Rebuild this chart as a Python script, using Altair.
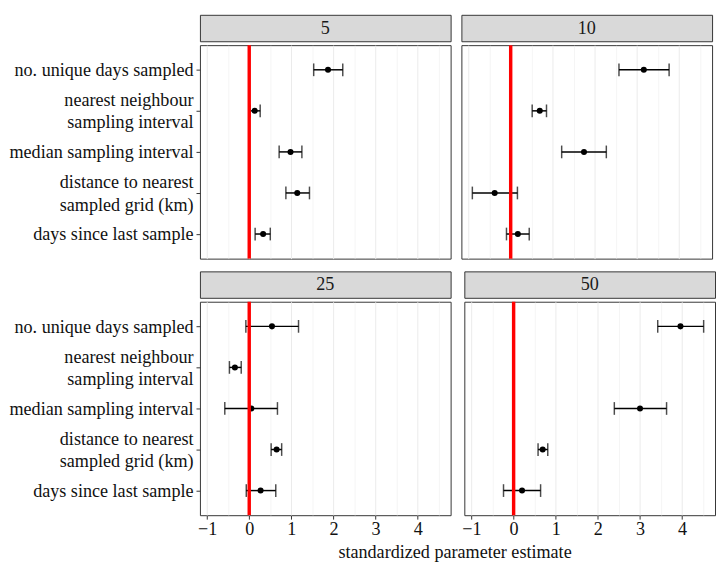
import altair as alt
import pandas as pd

categories = [
    "no. unique days sampled",
    "nearest neighbour\nsampling interval",
    "median sampling interval",
    "distance to nearest\nsampled grid (km)",
    "days since last sample",
]
panels = ["5", "10", "25", "50"]

est_5 = [1.87, 0.13, 0.98, 1.14, 0.33]
lo_5 = [1.53, 0.02, 0.71, 0.87, 0.14]
hi_5 = [2.22, 0.26, 1.25, 1.43, 0.50]

est_10 = [3.16, 0.69, 1.74, -0.38, 0.17]
lo_10 = [2.57, 0.51, 1.21, -0.91, -0.10]
hi_10 = [3.76, 0.85, 2.27, 0.16, 0.44]

est_25 = [0.54, -0.34, 0.05, 0.65, 0.27]
lo_25 = [-0.08, -0.47, -0.58, 0.52, -0.07]
hi_25 = [1.17, -0.19, 0.67, 0.77, 0.63]

est_50 = [3.96, None, 3.00, 0.69, 0.20]
lo_50 = [3.42, None, 2.39, 0.58, -0.24]
hi_50 = [4.51, None, 3.63, 0.81, 0.64]

x_ticks = [-1, 0, 1, 2, 3, 4]
x_grid = [-1, -0.5, 0, 0.5, 1, 1.5, 2, 2.5, 3, 3.5, 4, 4.5]
x_domain = [-1.17, 4.78]
ref_value = [0]
x_title = "standardized parameter estimate"

FONT = "Liberation Serif"
FS = 18.5
W = 256
PH = 218
SH = 27
TXT = "#111111"
BORDER = "#333333"

grid_width = {"condition": {"test": "datum.value % 1 === 0", "value": 1.0}, "value": 0.5}
label_shift = {"condition": {"test": "indexof(datum.value, '\\n') >= 0", "value": -11.5}, "value": 0}


def panel(name, est, lo, hi, show_y, show_x):
    df = pd.DataFrame({"cat": categories, "est": est, "lo": lo, "hi": hi}).dropna()
    xscale = alt.Scale(domain=x_domain, nice=False, zero=False)
    yscale = alt.Scale(type="point", domain=categories, padding=0.6)
    if show_x:
        xaxis = alt.Axis(
            values=x_grid, format=".0f",
            labelExpr="datum.value % 1 === 0 ? datum.label : ''",
            tickOpacity={"condition": {"test": "datum.value % 1 === 0", "value": 1}, "value": 0},
            tickSize=4, tickColor=BORDER, tickWidth=1,
            labelFont=FONT, labelFontSize=FS, labelColor=TXT, labelPadding=1,
            domain=False, grid=True, gridColor="#EBEBEB", gridWidth=grid_width,
            title=None, labelFlush=False,
        )
    else:
        xaxis = alt.Axis(
            values=x_grid, labels=False, ticks=False, domain=False,
            grid=True, gridColor="#EBEBEB", gridWidth=grid_width, title=None,
        )
    if show_y:
        yaxis = alt.Axis(
            labelExpr="split(datum.label, '\\n')",
            labelFont=FONT, labelFontSize=FS, labelColor=TXT, labelLineHeight=23,
            labelOffset=label_shift, labelLimit=400,
            labelPadding=3, tickSize=4, tickColor=BORDER, tickWidth=1,
            domain=False, grid=False, title=None,
        )
    else:
        yaxis = None

    base = alt.Chart(df)
    y_enc = alt.Y("cat:N", scale=yscale, axis=yaxis, sort=categories)
    bar = base.mark_rule(color="black", strokeWidth=1.5).encode(
        x=alt.X("lo:Q", scale=xscale, axis=xaxis), x2="hi:Q", y=y_enc
    )
    cap_lo = base.mark_tick(color="black", thickness=1.5, size=13, orient="vertical").encode(
        x=alt.X("lo:Q", scale=xscale, axis=xaxis), y=y_enc
    )
    cap_hi = base.mark_tick(color="black", thickness=1.5, size=13, orient="vertical").encode(
        x=alt.X("hi:Q", scale=xscale, axis=xaxis), y=y_enc
    )
    pts = base.mark_circle(color="black", size=38, opacity=1).encode(
        x=alt.X("est:Q", scale=xscale, axis=xaxis), y=y_enc
    )
    ref = alt.Chart(pd.DataFrame({"z": ref_value})).mark_rule(color="#FF0000", strokeWidth=3.5).encode(
        x=alt.X("z:Q", scale=xscale, axis=xaxis)
    )
    plot = alt.layer(bar, cap_lo, cap_hi, pts, ref).properties(
        width=W, height=PH,
        view=alt.ViewBackground(fill="white", stroke=BORDER, strokeWidth=1),
    )
    strip = alt.Chart(pd.DataFrame({"p": [name]})).mark_text(
        font=FONT, fontSize=FS, color="#1A1A1A", baseline="middle", align="center"
    ).encode(text="p:N").properties(
        width=W, height=SH,
        view=alt.ViewBackground(fill="#D9D9D9", stroke=BORDER, strokeWidth=1),
    )
    return alt.vconcat(strip, plot, spacing=0)


p5 = panel(panels[0], est_5, lo_5, hi_5, True, False)
p10 = panel(panels[1], est_10, lo_10, hi_10, False, False)
p25 = panel(panels[2], est_25, lo_25, hi_25, True, True)
p50 = panel(panels[3], est_50, lo_50, hi_50, False, True)

row1 = alt.hconcat(p5, p10, spacing=9)
row2 = alt.hconcat(p25, p50, spacing=9)
grid = alt.vconcat(row1, row2, spacing=9)

title_chart = alt.Chart(pd.DataFrame({"t": [x_title]})).mark_text(
    font=FONT, fontSize=FS, color=TXT, baseline="middle", align="center"
).encode(text="t:N").properties(
    width=2 * W + 9, height=24,
    view=alt.ViewBackground(fill="white", strokeWidth=0),
)

chart = alt.vconcat(grid, title_chart, spacing=2).properties(
    padding=0, background="white"
).configure_view(strokeWidth=0)

chart.save("out.html", embed_options={"renderer": "svg", "actions": False})
